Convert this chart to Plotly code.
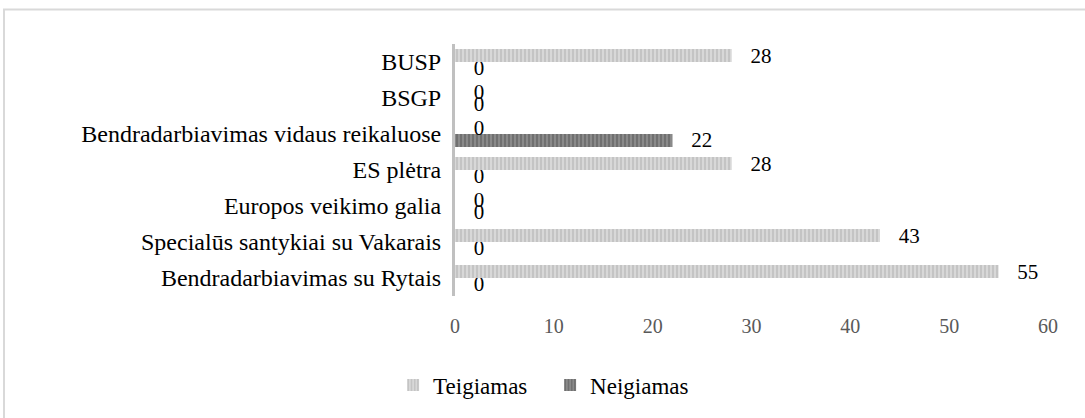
import plotly.graph_objects as go

categories = ["Bendradarbiavimas su Rytais", "Specialūs santykiai su Vakarais",
              "Europos veikimo galia", "ES plėtra",
              "Bendradarbiavimas vidaus reikaluose", "BSGP", "BUSP"]
teigiamas = [55, 43, 0, 28, 0, 0, 28]
neigiamas = [0, 0, 0, 0, 22, 0, 0]
x_ticks = [0, 10, 20, 30, 40, 50, 60]

W, H = 1085, 418
L, R, T, B = 455, 37, 44, 122
pw, ph = W - L - R, H - T - B
SERIF = "Liberation Serif, Times New Roman, serif"

fig = go.Figure()
fig.add_trace(go.Bar(
    y=categories, x=neigiamas, orientation="h", name="Neigiamas",
    marker=dict(color="#7a7a7a",
                pattern=dict(shape="|", fgcolor="#505050", bgcolor="#8a8a8a",
                             size=4, solidity=0.45, fillmode="overlay"),
                line=dict(width=0)),
    text=neigiamas, texttemplate="   %{x}", textposition="outside",
    constraintext="none", cliponaxis=False,
    textfont=dict(family=SERIF, size=21, color="#000000"),
))
fig.add_trace(go.Bar(
    y=categories, x=teigiamas, orientation="h", name="Teigiamas",
    marker=dict(color="#c8c8c8",
                pattern=dict(shape="|", fgcolor="#ababab", bgcolor="#d8d8d8",
                             size=4, solidity=0.45, fillmode="overlay"),
                line=dict(width=0)),
    text=teigiamas, texttemplate="   %{x}", textposition="outside",
    constraintext="none", cliponaxis=False,
    textfont=dict(family=SERIF, size=21, color="#000000"),
))

fx0 = (4 - L) / pw
fy1 = (H - B - 9.5) / ph
fig.update_layout(
    width=W, height=H,
    margin=dict(l=L, r=R, t=T, b=B),
    paper_bgcolor="white", plot_bgcolor="white",
    barmode="group", bargap=0.28, bargroupgap=0,
    font=dict(family=SERIF, size=21, color="#000000"),
    xaxis=dict(range=[0, 60], tickvals=x_ticks, showgrid=False, zeroline=False,
               showline=False, ticks="", ticklabelstandoff=16,
               tickfont=dict(family=SERIF, size=20, color="#595959")),
    yaxis=dict(showgrid=False, zeroline=False, showline=True, linecolor="#c0c0c0",
               linewidth=3, ticks="", ticklabelstandoff=6,
               categoryorder="array", categoryarray=categories,
               tickfont=dict(family=SERIF, size=24, color="#000000")),
    showlegend=True,
    legend=dict(orientation="h", traceorder="reversed", xref="container",
                yref="container", x=0.507, y=0.079, xanchor="center",
                yanchor="middle", font=dict(family=SERIF, size=23,
                                            color="#000000"),
                itemwidth=30, entrywidth=112),
    shapes=[dict(type="path", xref="paper", yref="paper",
                 path=f"M {fx0} -1 L {fx0} {fy1} L 1.2 {fy1}",
                 line=dict(color="#d9d9d9", width=2))],
)

fig.write_html("out.html", config={"displayModeBar": False},
               post_script="document.body.style.margin='0';document.body.style.padding='0';")
